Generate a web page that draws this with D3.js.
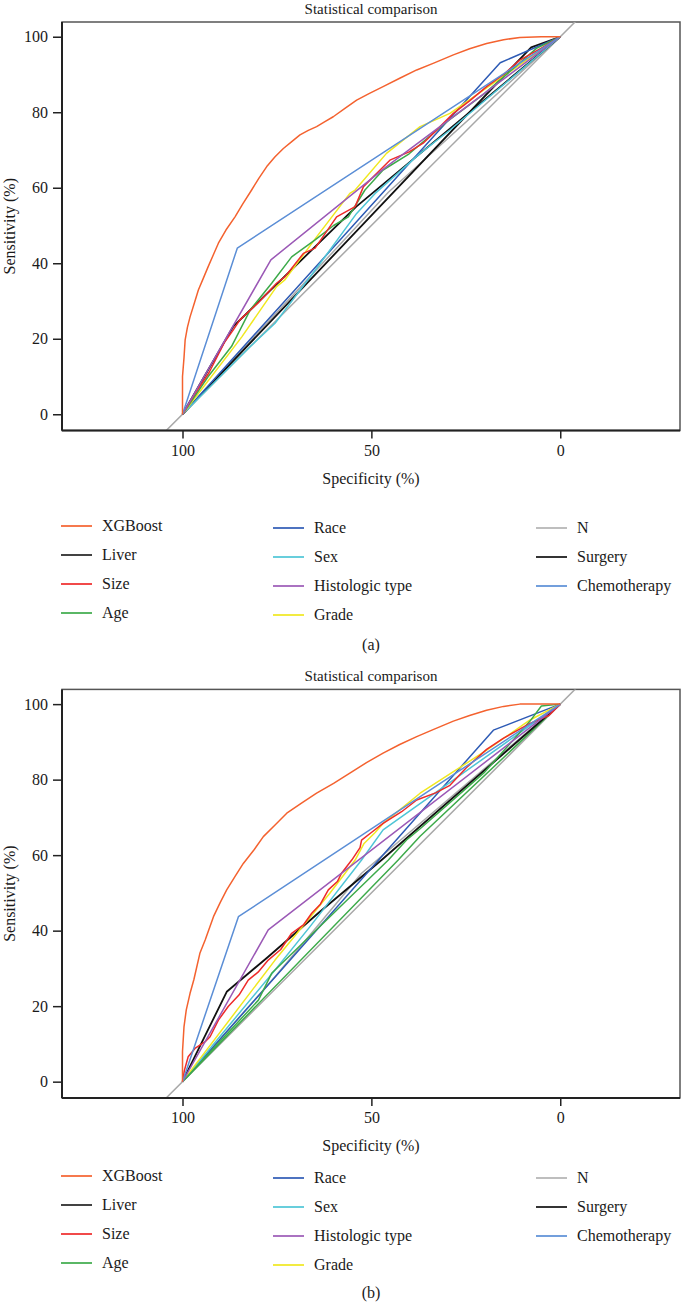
<!DOCTYPE html>
<html><head><meta charset="utf-8">
<script src="https://cdn.jsdelivr.net/npm/d3@7"></script>
<style>
body{margin:0;background:#fff}
svg{display:block}
text{font-family:"Liberation Serif","DejaVu Serif","Times New Roman",serif;fill:#1a1a1a}
</style>
</head><body>
<svg id="chart" width="681" height="1303"></svg>
<script>
// ---------- categories / labels ----------
const seriesNames = ["XGBoost","Liver","Size","Age","Race","Sex","Histologic type","Grade","N","Surgery","Chemotherapy"];
const legendColors = ["#f4622f","#222222","#ee2a2a","#3daa4a","#2e5bb5","#4ec5d6","#9b59b6","#f0e820","#b3b3b3","#111111","#5b8ed6"];
const plotColorsA = ["#f4622f","#111111","#ee2a2a","#3daa4a","#2e5bb5","#4ec5d6","#9b59b6","#f0e820","#a8a8a8","#111111","#5b8ed6"];
const plotColorsB = ["#f4622f","#111111","#ee2a2a","#3daa4a","#2e5bb5","#4ec5d6","#9b59b6","#f0e820","#a8a8a8","#3daa4a","#5b8ed6"];
const xTickValues = [100, 50, 0];
const yTickValues = [0, 20, 40, 60, 80, 100];
const titleText = "Statistical comparison";
const xLabel = "Specificity (%)";
const yLabel = "Sensitivity (%)";
const captions = ["(a)", "(b)"];
const chanceLine = [[110,-10],[-10,110]];

// ---------- panel (a): [specificity, sensitivity] ----------
const a_XGBoost = [[100,0],[100,10],[99.6,15],[99.3,19.7],[98.7,23],[98,25.8],[97,29],[95.8,32.9],[94.5,36],[93.2,39.1],[91.8,42.3],[90.5,45.3],[88.5,48.8],[86.1,52.3],[84,55.8],[81.7,59.4],[79.8,62.5],[77.7,65.6],[75.5,68.2],[73.3,70.4],[71,72.3],[68.9,74],[66.7,75.2],[64.5,76.2],[62.3,77.5],[60.1,78.8],[57,81],[53.9,83.2],[50.5,85],[46.9,86.8],[42.5,89],[38,91.2],[33.5,93],[28.3,95.2],[24,96.8],[19.5,98.2],[15,99.2],[10.7,99.8],[5,100],[0,100]];
const a_Liver = [[100,0],[86.6,23.2],[54,55],[0,100]];
const a_Size = [[100,0],[97,5],[93,11],[88.8,19.2],[86.6,22.3],[84.8,25],[80,29.5],[75.1,34.7],[72.9,36.4],[68,42.6],[64.9,44],[59.2,52.3],[54.3,55],[52.1,60.3],[45.1,67.3],[40,69.5],[36.3,71.8],[33,75],[28.3,79.7],[24,83],[19.5,86.8],[15,90],[10.7,93.8],[5,97],[0,100]];
const a_Age = [[100,0],[93.2,10],[87,18],[82.1,27.6],[76.4,34.7],[71.1,41.7],[64.9,46.2],[60,50],[56.1,52.3],[51.7,59.4],[46.9,64.7],[40,69],[30,77.5],[20,85],[6.3,96.9],[0,100]];
const a_Race = [[100,0],[15.9,93.1],[0,100]];
const a_Sex = [[100,0],[82.1,17.9],[75.5,24.1],[65,38],[53.9,53.2],[49,58.5],[37.1,69.1],[29.2,75.3],[0,100]];
const a_Histologic = [[100,0],[76.6,40.9],[46,65.6],[0,100]];
const a_Grade = [[100,0],[84.3,20.5],[75.1,33.8],[72.9,35.6],[64.5,47],[55.7,58.5],[54.3,59.4],[46,69.1],[37.1,76.2],[29.2,79.7],[0,100]];
const a_N = [[100,0],[45.5,58.8],[0,100]];
const a_Surgery = [[100,0],[7.7,97.2],[0,100]];
const a_Chemotherapy = [[100,0],[85.5,44],[0,100]];

// ---------- panel (b): [specificity, sensitivity] ----------
const b_XGBoost = [[100,0],[100,8],[99.6,14.6],[99,19],[98,23.4],[97,27],[95.4,34],[94,37.5],[91.8,43.7],[90,47.5],[88.3,50.8],[86,54.5],[83.9,57.8],[81,61.5],[78.6,64.9],[75.5,68],[72.4,71.1],[68.5,73.8],[64.5,76.4],[60,79],[55.7,81.7],[51.3,84.5],[46.9,87],[42.5,89.3],[38,91.4],[33.5,93.3],[28.3,95.5],[24,97],[19.5,98.4],[15,99.4],[10.7,100],[0,100]];
const b_Liver = [[100,0],[88.3,23.8],[77.3,33.1],[64.1,44.6],[47.3,58.7],[0,100]];
const b_Size = [[100,0],[99.5,3],[98.5,6.6],[96.7,8.8],[94,10.6],[92.7,11.9],[90.5,16.3],[87.9,19.9],[85,23],[82.6,26.9],[80,29],[77.3,32.2],[74,35],[71.1,39.3],[68,41.5],[65.8,44.6],[63.5,47],[61.4,50.8],[59,53],[57.9,55.2],[55.2,58.7],[53,62],[52.6,64],[50,66],[46.9,68.4],[42,71.5],[38,74.6],[33,76.5],[29.2,78.5],[25,83],[19.5,88],[15,91],[8,94.9],[3,97],[0,100]];
const b_Age = [[100,0],[79.9,21.6],[76.4,28.7],[45.5,58.7],[40.7,64],[37.1,67],[20,82],[8,95.5],[5,99.5],[0,100]];
const b_Race = [[100,0],[17.7,93.1],[0,100]];
const b_Sex = [[100,0],[75.5,29.6],[66.3,41],[52.6,58.7],[46.9,66.7],[0,100]];
const b_Histologic = [[100,0],[77.3,40.2],[0,100]];
const b_Grade = [[100,0],[75.5,32.2],[61,49.9],[54.3,58.7],[52,63],[49,66],[46.9,68.4],[37.1,76.4],[19.5,87.8],[8,95.8],[0,100]];
const b_N = [[100,0],[75.5,27.8],[52.6,55.2],[0,100]];
const b_Surgery = [[100,0],[42.9,58.7],[37.1,65],[0,100]];
const b_Chemotherapy = [[100,0],[85.2,43.7],[0,100]];

const panelA = [a_XGBoost,a_Liver,a_Size,a_Age,a_Race,a_Sex,a_Histologic,a_Grade,a_N,a_Surgery,a_Chemotherapy];
const panelB = [b_XGBoost,b_Liver,b_Size,b_Age,b_Race,b_Sex,b_Histologic,b_Grade,b_N,b_Surgery,b_Chemotherapy];

// ---------- layout ----------
const svg = d3.select("#chart");
const L = 62, R = 680, T = 22, B = 430.5;
const x = d3.scaleLinear().domain([131.9, -31.7]).range([L, R]);
const y = d3.scaleLinear().domain([-4.3, 103.9]).range([B, T]);
const line = d3.line().x(d => x(d[0])).y(d => y(d[1]));

function drawPanel(idx, offsetY, series, plotColors, legendTop, captionY) {
  const g = svg.append("g").attr("transform", `translate(0,${offsetY})`);
  const clipId = "clip" + idx;
  g.append("clipPath").attr("id", clipId).append("rect")
    .attr("x", L).attr("y", T).attr("width", R - L).attr("height", B - T);

  // title
  g.append("text").attr("x", (L + R) / 2).attr("y", 14).attr("text-anchor", "middle")
    .style("font-size", "15px").text(titleText);

  // frame
  g.append("rect").attr("x", L).attr("y", T).attr("width", R - L).attr("height", B - T)
    .attr("fill", "none").attr("stroke", "#555").attr("stroke-width", 1.5);

  const plot = g.append("g").attr("clip-path", `url(#${clipId})`);
  plot.append("path").datum(chanceLine).attr("d", line)
    .attr("fill", "none").attr("stroke", "#a8a8a8").attr("stroke-width", 1.5);

  // draw curves: non-XGBoost first, XGBoost last
  const order = [8, 9, 1, 4, 5, 7, 3, 2, 6, 10, 0];
  order.forEach(i => {
    const c = plotColors[i];
    const dark = (c === "#111111");
    plot.append("path").datum(series[i]).attr("d", line)
      .attr("fill", "none").attr("stroke", c)
      .attr("stroke-width", dark ? 1.8 : 1.5)
      .attr("stroke-linejoin", "round");
  });

  // axes
  const yAxis = d3.axisLeft(y).tickValues(yTickValues).tickSize(9).tickPadding(5);
  const ya = g.append("g").attr("transform", `translate(${L},0)`).call(yAxis);
  const xAxis = d3.axisBottom(x).tickValues(xTickValues).tickSize(8).tickPadding(6);
  const xa = g.append("g").attr("transform", `translate(0,${B})`).call(xAxis);
  [ya, xa].forEach(a => {
    a.select(".domain").remove();
    a.selectAll(".tick line").attr("stroke", "#222").attr("stroke-width", 1.5);
    a.selectAll(".tick text").style("font-size", "16px")
      .style("font-family", '"Liberation Serif","DejaVu Serif",serif').attr("fill", "#1a1a1a");
  });
  g.append("line").attr("x1", L).attr("x2", L).attr("y1", T).attr("y2", B)
    .attr("stroke", "#222").attr("stroke-width", 2);
  g.append("line").attr("x1", L).attr("x2", R).attr("y1", B).attr("y2", B)
    .attr("stroke", "#222").attr("stroke-width", 2);

  g.append("text").attr("x", (L + R) / 2).attr("y", B + 53).attr("text-anchor", "middle")
    .style("font-size", "16px").text(xLabel);
  g.append("text").attr("transform", `translate(15,${(T + B) / 2}) rotate(-90)`)
    .attr("text-anchor", "middle").style("font-size", "16px").text(yLabel);

  // legend
  const colX = [61, 273, 536];
  const rowH = 29;
  seriesNames.forEach((name, i) => {
    const col = i < 4 ? 0 : (i < 8 ? 1 : 2);
    const row = i < 4 ? i : (i < 8 ? i - 4 : i - 8);
    const cy = legendTop + row * rowH + (col === 0 ? 0 : 2);
    g.append("line").attr("x1", colX[col]).attr("x2", colX[col] + 31)
      .attr("y1", cy).attr("y2", cy)
      .attr("stroke", legendColors[i]).attr("stroke-width", 2).attr("stroke-opacity", 0.85);
    g.append("text").attr("x", colX[col] + 41).attr("y", cy + 5)
      .style("font-size", "16px").text(name);
  });

  g.append("text").attr("x", (L + R) / 2).attr("y", captionY).attr("text-anchor", "middle")
    .style("font-size", "16px").text(captions[idx]);
}

drawPanel(0, 0, panelA, plotColorsA, 526, 650);
drawPanel(1, 667.4, panelB, plotColorsB, 508.6, 630.5);
</script>
</body></html>
